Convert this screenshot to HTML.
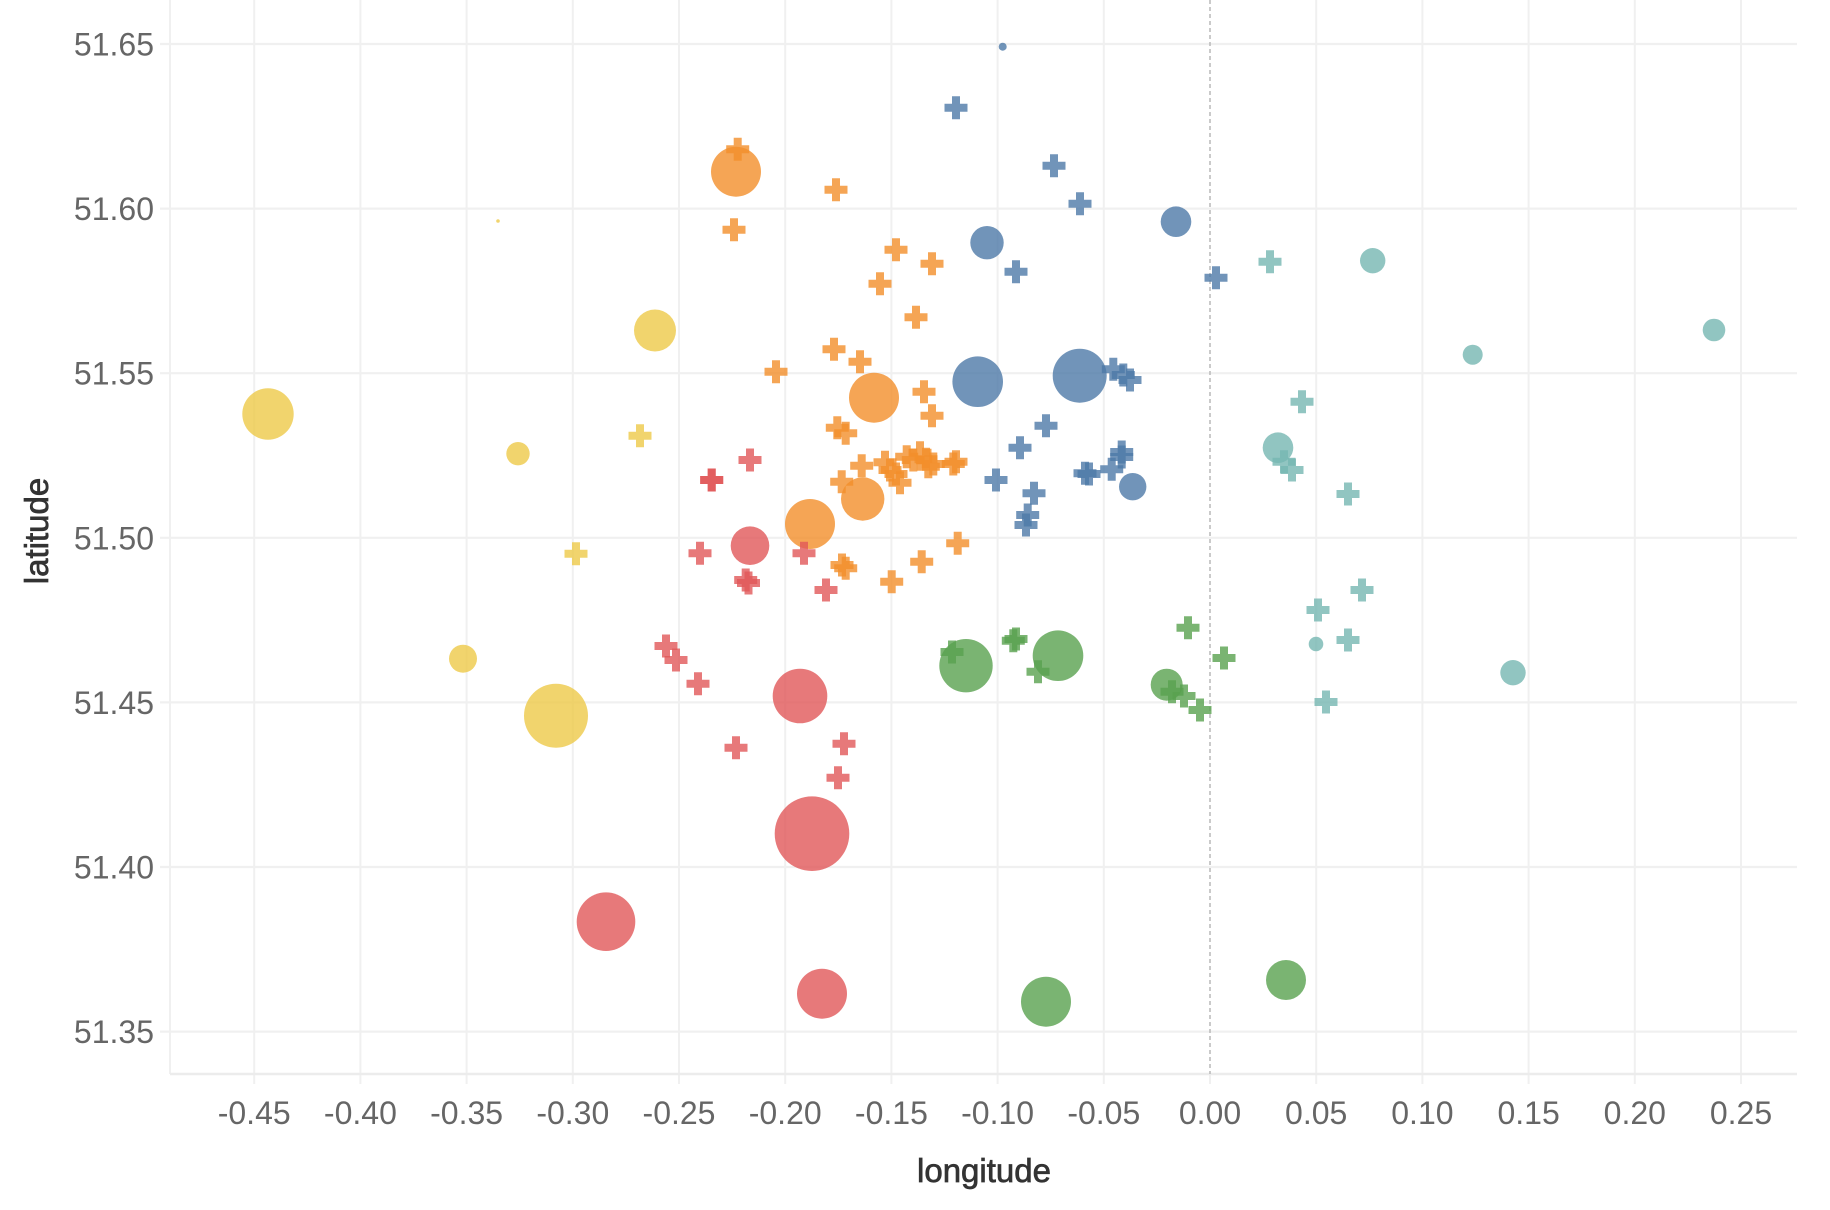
<!DOCTYPE html>
<html><head><meta charset="utf-8"><style>
html,body{margin:0;padding:0;background:#fff;}
svg{display:block;font-family:"Liberation Sans",sans-serif;}
</style></head><body>
<svg width="1830" height="1210" viewBox="0 0 1830 1210" xmlns="http://www.w3.org/2000/svg">
<rect width="1830" height="1210" fill="#fff"/>
<!-- vertical gridlines -->
<g stroke="#f0f0f0" stroke-width="2">
<line x1="170" y1="0" x2="170" y2="1074"/>
<line x1="254.2" y1="0" x2="254.2" y2="1084"/>
<line x1="360.4" y1="0" x2="360.4" y2="1084"/>
<line x1="466.6" y1="0" x2="466.6" y2="1084"/>
<line x1="572.8" y1="0" x2="572.8" y2="1084"/>
<line x1="679" y1="0" x2="679" y2="1084"/>
<line x1="785.2" y1="0" x2="785.2" y2="1084"/>
<line x1="891.4" y1="0" x2="891.4" y2="1084"/>
<line x1="997.6" y1="0" x2="997.6" y2="1084"/>
<line x1="1103.8" y1="0" x2="1103.8" y2="1084"/>
<line x1="1210" y1="1074" x2="1210" y2="1084"/>
<line x1="1316.2" y1="0" x2="1316.2" y2="1084"/>
<line x1="1422.4" y1="0" x2="1422.4" y2="1084"/>
<line x1="1528.6" y1="0" x2="1528.6" y2="1084"/>
<line x1="1634.8" y1="0" x2="1634.8" y2="1084"/>
<line x1="1741" y1="0" x2="1741" y2="1084"/>
</g>
<!-- horizontal gridlines -->
<g stroke="#f0f0f0" stroke-width="2.2">
<line x1="160" y1="44" x2="1797" y2="44"/>
<line x1="160" y1="208.6" x2="1797" y2="208.6"/>
<line x1="160" y1="373.2" x2="1797" y2="373.2"/>
<line x1="160" y1="537.8" x2="1797" y2="537.8"/>
<line x1="160" y1="702.4" x2="1797" y2="702.4"/>
<line x1="160" y1="867" x2="1797" y2="867"/>
<line x1="160" y1="1031.6" x2="1797" y2="1031.6"/>
<line x1="170" y1="1074" x2="1797" y2="1074" stroke="#ececec" stroke-width="2.6"/>
</g>
<line x1="1210" y1="0" x2="1210" y2="1074" stroke="#bdbdbd" stroke-width="1.6" stroke-dasharray="4 3"/>

<!-- Yellow -->
<g fill="#edc948" fill-opacity="0.8">
<circle cx="268" cy="414" r="25.7"/>
<circle cx="655" cy="330.5" r="21"/>
<circle cx="518" cy="453.7" r="11.7"/>
<circle cx="463" cy="658.7" r="14"/>
<circle cx="556" cy="715.7" r="32"/>
<circle cx="498" cy="221" r="1.8"/>
<path transform="translate(640 435.7)" d="M-4-11.5h8v7.5h7.5v8h-7.5v7.5h-8v-7.5h-7.5v-8h7.5z"/>
<path transform="translate(576 553.7)" d="M-4-11.5h8v7.5h7.5v8h-7.5v7.5h-8v-7.5h-7.5v-8h7.5z"/>
</g>

<!-- Orange -->
<g fill="#f28e2b" fill-opacity="0.8">
<circle cx="736" cy="171.7" r="25"/>
<circle cx="874" cy="397.7" r="25"/>
<circle cx="862.7" cy="499" r="21.7"/>
<circle cx="810" cy="524" r="25"/>
<path transform="translate(737.7 149.3)" d="M-4-11.5h8v7.5h7.5v8h-7.5v7.5h-8v-7.5h-7.5v-8h7.5z"/>
<path transform="translate(836 189.7)" d="M-4-11.5h8v7.5h7.5v8h-7.5v7.5h-8v-7.5h-7.5v-8h7.5z"/>
<path transform="translate(734 229.7)" d="M-4-11.5h8v7.5h7.5v8h-7.5v7.5h-8v-7.5h-7.5v-8h7.5z"/>
<path transform="translate(896 249.7)" d="M-4-11.5h8v7.5h7.5v8h-7.5v7.5h-8v-7.5h-7.5v-8h7.5z"/>
<path transform="translate(932 263.7)" d="M-4-11.5h8v7.5h7.5v8h-7.5v7.5h-8v-7.5h-7.5v-8h7.5z"/>
<path transform="translate(880 283.7)" d="M-4-11.5h8v7.5h7.5v8h-7.5v7.5h-8v-7.5h-7.5v-8h7.5z"/>
<path transform="translate(916 317.3)" d="M-4-11.5h8v7.5h7.5v8h-7.5v7.5h-8v-7.5h-7.5v-8h7.5z"/>
<path transform="translate(834 349.3)" d="M-4-11.5h8v7.5h7.5v8h-7.5v7.5h-8v-7.5h-7.5v-8h7.5z"/>
<path transform="translate(860 361.7)" d="M-4-11.5h8v7.5h7.5v8h-7.5v7.5h-8v-7.5h-7.5v-8h7.5z"/>
<path transform="translate(776 371.7)" d="M-4-11.5h8v7.5h7.5v8h-7.5v7.5h-8v-7.5h-7.5v-8h7.5z"/>
<path transform="translate(924 391.7)" d="M-4-11.5h8v7.5h7.5v8h-7.5v7.5h-8v-7.5h-7.5v-8h7.5z"/>
<path transform="translate(932 415.7)" d="M-4-11.5h8v7.5h7.5v8h-7.5v7.5h-8v-7.5h-7.5v-8h7.5z"/>
<path transform="translate(837.3 427.7)" d="M-4-11.5h8v7.5h7.5v8h-7.5v7.5h-8v-7.5h-7.5v-8h7.5z"/>
<path transform="translate(845.7 433.3)" d="M-4-11.5h8v7.5h7.5v8h-7.5v7.5h-8v-7.5h-7.5v-8h7.5z"/>
<path transform="translate(861.7 465.7)" d="M-4-11.5h8v7.5h7.5v8h-7.5v7.5h-8v-7.5h-7.5v-8h7.5z"/>
<path transform="translate(841.7 481.7)" d="M-4-11.5h8v7.5h7.5v8h-7.5v7.5h-8v-7.5h-7.5v-8h7.5z"/>
<path transform="translate(885 462.3)" d="M-4-11.5h8v7.5h7.5v8h-7.5v7.5h-8v-7.5h-7.5v-8h7.5z"/>
<path transform="translate(890 470)" d="M-4-11.5h8v7.5h7.5v8h-7.5v7.5h-8v-7.5h-7.5v-8h7.5z"/>
<path transform="translate(896 474)" d="M-4-11.5h8v7.5h7.5v8h-7.5v7.5h-8v-7.5h-7.5v-8h7.5z"/>
<path transform="translate(900 482.7)" d="M-4-11.5h8v7.5h7.5v8h-7.5v7.5h-8v-7.5h-7.5v-8h7.5z"/>
<path transform="translate(906.7 456.7)" d="M-4-11.5h8v7.5h7.5v8h-7.5v7.5h-8v-7.5h-7.5v-8h7.5z"/>
<path transform="translate(913.3 460)" d="M-4-11.5h8v7.5h7.5v8h-7.5v7.5h-8v-7.5h-7.5v-8h7.5z"/>
<path transform="translate(920 452.7)" d="M-4-11.5h8v7.5h7.5v8h-7.5v7.5h-8v-7.5h-7.5v-8h7.5z"/>
<path transform="translate(926 459.3)" d="M-4-11.5h8v7.5h7.5v8h-7.5v7.5h-8v-7.5h-7.5v-8h7.5z"/>
<path transform="translate(928.3 466.7)" d="M-4-11.5h8v7.5h7.5v8h-7.5v7.5h-8v-7.5h-7.5v-8h7.5z"/>
<path transform="translate(933.3 464)" d="M-4-11.5h8v7.5h7.5v8h-7.5v7.5h-8v-7.5h-7.5v-8h7.5z"/>
<path transform="translate(953.3 464)" d="M-4-11.5h8v7.5h7.5v8h-7.5v7.5h-8v-7.5h-7.5v-8h7.5z"/>
<path transform="translate(956 461.7)" d="M-4-11.5h8v7.5h7.5v8h-7.5v7.5h-8v-7.5h-7.5v-8h7.5z"/>
<path transform="translate(845.7 568.3)" d="M-4-11.5h8v7.5h7.5v8h-7.5v7.5h-8v-7.5h-7.5v-8h7.5z"/>
<path transform="translate(842 565)" d="M-4-11.5h8v7.5h7.5v8h-7.5v7.5h-8v-7.5h-7.5v-8h7.5z"/>
<path transform="translate(921.7 561.7)" d="M-4-11.5h8v7.5h7.5v8h-7.5v7.5h-8v-7.5h-7.5v-8h7.5z"/>
<path transform="translate(957.7 543.3)" d="M-4-11.5h8v7.5h7.5v8h-7.5v7.5h-8v-7.5h-7.5v-8h7.5z"/>
<path transform="translate(891.7 581.7)" d="M-4-11.5h8v7.5h7.5v8h-7.5v7.5h-8v-7.5h-7.5v-8h7.5z"/>
</g>

<!-- Red -->
<g fill="#e15759" fill-opacity="0.8">
<circle cx="750" cy="545.7" r="19.3"/>
<circle cx="800" cy="696" r="27.3"/>
<circle cx="812" cy="833.7" r="37.3"/>
<circle cx="606" cy="921.7" r="29.3"/>
<circle cx="822" cy="993.7" r="25"/>
<path transform="translate(711.7 480)" d="M-4-11.5h8v7.5h7.5v8h-7.5v7.5h-8v-7.5h-7.5v-8h7.5z"/>
<path transform="translate(711.7 480)" d="M-4-11.5h8v7.5h7.5v8h-7.5v7.5h-8v-7.5h-7.5v-8h7.5z"/>
<path transform="translate(750 460)" d="M-4-11.5h8v7.5h7.5v8h-7.5v7.5h-8v-7.5h-7.5v-8h7.5z"/>
<path transform="translate(700 553.3)" d="M-4-11.5h8v7.5h7.5v8h-7.5v7.5h-8v-7.5h-7.5v-8h7.5z"/>
<path transform="translate(804 553.3)" d="M-4-11.5h8v7.5h7.5v8h-7.5v7.5h-8v-7.5h-7.5v-8h7.5z"/>
<path transform="translate(745.7 580)" d="M-4-11.5h8v7.5h7.5v8h-7.5v7.5h-8v-7.5h-7.5v-8h7.5z"/>
<path transform="translate(748.5 583)" d="M-4-11.5h8v7.5h7.5v8h-7.5v7.5h-8v-7.5h-7.5v-8h7.5z"/>
<path transform="translate(826 590)" d="M-4-11.5h8v7.5h7.5v8h-7.5v7.5h-8v-7.5h-7.5v-8h7.5z"/>
<path transform="translate(666 646)" d="M-4-11.5h8v7.5h7.5v8h-7.5v7.5h-8v-7.5h-7.5v-8h7.5z"/>
<path transform="translate(676 660)" d="M-4-11.5h8v7.5h7.5v8h-7.5v7.5h-8v-7.5h-7.5v-8h7.5z"/>
<path transform="translate(698 683.7)" d="M-4-11.5h8v7.5h7.5v8h-7.5v7.5h-8v-7.5h-7.5v-8h7.5z"/>
<path transform="translate(736 747.7)" d="M-4-11.5h8v7.5h7.5v8h-7.5v7.5h-8v-7.5h-7.5v-8h7.5z"/>
<path transform="translate(844 743.7)" d="M-4-11.5h8v7.5h7.5v8h-7.5v7.5h-8v-7.5h-7.5v-8h7.5z"/>
<path transform="translate(838 777.7)" d="M-4-11.5h8v7.5h7.5v8h-7.5v7.5h-8v-7.5h-7.5v-8h7.5z"/>
</g>

<!-- Blue -->
<g fill="#4e79a7" fill-opacity="0.8">
<circle cx="1002.7" cy="46.7" r="4"/>
<circle cx="987" cy="242.7" r="16.7"/>
<circle cx="1176" cy="221.7" r="15.3"/>
<circle cx="977.7" cy="381.7" r="25.3"/>
<circle cx="1079.7" cy="375.7" r="27"/>
<circle cx="1132.7" cy="486.7" r="13.7"/>
<path transform="translate(956 107.7)" d="M-4-11.5h8v7.5h7.5v8h-7.5v7.5h-8v-7.5h-7.5v-8h7.5z"/>
<path transform="translate(1054 165.7)" d="M-4-11.5h8v7.5h7.5v8h-7.5v7.5h-8v-7.5h-7.5v-8h7.5z"/>
<path transform="translate(1080 203.7)" d="M-4-11.5h8v7.5h7.5v8h-7.5v7.5h-8v-7.5h-7.5v-8h7.5z"/>
<path transform="translate(1016 271.7)" d="M-4-11.5h8v7.5h7.5v8h-7.5v7.5h-8v-7.5h-7.5v-8h7.5z"/>
<path transform="translate(1216 277.7)" d="M-4-11.5h8v7.5h7.5v8h-7.5v7.5h-8v-7.5h-7.5v-8h7.5z"/>
<path transform="translate(1113.3 369.3)" d="M-4-11.5h8v7.5h7.5v8h-7.5v7.5h-8v-7.5h-7.5v-8h7.5z"/>
<path transform="translate(1123.3 375)" d="M-4-11.5h8v7.5h7.5v8h-7.5v7.5h-8v-7.5h-7.5v-8h7.5z"/>
<path transform="translate(1130 380)" d="M-4-11.5h8v7.5h7.5v8h-7.5v7.5h-8v-7.5h-7.5v-8h7.5z"/>
<path transform="translate(1046 425.7)" d="M-4-11.5h8v7.5h7.5v8h-7.5v7.5h-8v-7.5h-7.5v-8h7.5z"/>
<path transform="translate(1020 447.7)" d="M-4-11.5h8v7.5h7.5v8h-7.5v7.5h-8v-7.5h-7.5v-8h7.5z"/>
<path transform="translate(1121.7 452)" d="M-4-11.5h8v7.5h7.5v8h-7.5v7.5h-8v-7.5h-7.5v-8h7.5z"/>
<path transform="translate(1121.7 457)" d="M-4-11.5h8v7.5h7.5v8h-7.5v7.5h-8v-7.5h-7.5v-8h7.5z"/>
<path transform="translate(1111.7 469.3)" d="M-4-11.5h8v7.5h7.5v8h-7.5v7.5h-8v-7.5h-7.5v-8h7.5z"/>
<path transform="translate(1085 473.3)" d="M-4-11.5h8v7.5h7.5v8h-7.5v7.5h-8v-7.5h-7.5v-8h7.5z"/>
<path transform="translate(1089 474)" d="M-4-11.5h8v7.5h7.5v8h-7.5v7.5h-8v-7.5h-7.5v-8h7.5z"/>
<path transform="translate(996 480)" d="M-4-11.5h8v7.5h7.5v8h-7.5v7.5h-8v-7.5h-7.5v-8h7.5z"/>
<path transform="translate(1034 493.3)" d="M-4-11.5h8v7.5h7.5v8h-7.5v7.5h-8v-7.5h-7.5v-8h7.5z"/>
<path transform="translate(1027.7 515)" d="M-4-11.5h8v7.5h7.5v8h-7.5v7.5h-8v-7.5h-7.5v-8h7.5z"/>
<path transform="translate(1026 525)" d="M-4-11.5h8v7.5h7.5v8h-7.5v7.5h-8v-7.5h-7.5v-8h7.5z"/>
</g>

<!-- Teal -->
<g fill="#76b7b2" fill-opacity="0.8">
<circle cx="1372.7" cy="260.7" r="12.7"/>
<circle cx="1472.7" cy="354.7" r="10"/>
<circle cx="1714" cy="330" r="11.3"/>
<circle cx="1278" cy="447.7" r="15.3"/>
<circle cx="1316" cy="644" r="7.3"/>
<circle cx="1513" cy="672.7" r="12.7"/>
<path transform="translate(1270 261.7)" d="M-4-11.5h8v7.5h7.5v8h-7.5v7.5h-8v-7.5h-7.5v-8h7.5z"/>
<path transform="translate(1302 401.7)" d="M-4-11.5h8v7.5h7.5v8h-7.5v7.5h-8v-7.5h-7.5v-8h7.5z"/>
<path transform="translate(1284 461.7)" d="M-4-11.5h8v7.5h7.5v8h-7.5v7.5h-8v-7.5h-7.5v-8h7.5z"/>
<path transform="translate(1292 470)" d="M-4-11.5h8v7.5h7.5v8h-7.5v7.5h-8v-7.5h-7.5v-8h7.5z"/>
<path transform="translate(1348 494)" d="M-4-11.5h8v7.5h7.5v8h-7.5v7.5h-8v-7.5h-7.5v-8h7.5z"/>
<path transform="translate(1362 590)" d="M-4-11.5h8v7.5h7.5v8h-7.5v7.5h-8v-7.5h-7.5v-8h7.5z"/>
<path transform="translate(1318 610)" d="M-4-11.5h8v7.5h7.5v8h-7.5v7.5h-8v-7.5h-7.5v-8h7.5z"/>
<path transform="translate(1348 640)" d="M-4-11.5h8v7.5h7.5v8h-7.5v7.5h-8v-7.5h-7.5v-8h7.5z"/>
<path transform="translate(1326 702)" d="M-4-11.5h8v7.5h7.5v8h-7.5v7.5h-8v-7.5h-7.5v-8h7.5z"/>
</g>

<!-- Green -->
<g fill="#59a14f" fill-opacity="0.8">
<circle cx="966" cy="665.7" r="26.7"/>
<circle cx="1058" cy="655.7" r="25.3"/>
<circle cx="1166.7" cy="684.7" r="16"/>
<circle cx="1046" cy="1001.7" r="25"/>
<circle cx="1286" cy="980" r="20"/>
<path transform="translate(952 652)" d="M-4-11.5h8v7.5h7.5v8h-7.5v7.5h-8v-7.5h-7.5v-8h7.5z"/>
<path transform="translate(1013.3 640.7)" d="M-4-11.5h8v7.5h7.5v8h-7.5v7.5h-8v-7.5h-7.5v-8h7.5z"/>
<path transform="translate(1016 639)" d="M-4-11.5h8v7.5h7.5v8h-7.5v7.5h-8v-7.5h-7.5v-8h7.5z"/>
<path transform="translate(1038 671.7)" d="M-4-11.5h8v7.5h7.5v8h-7.5v7.5h-8v-7.5h-7.5v-8h7.5z"/>
<path transform="translate(1188 627.7)" d="M-4-11.5h8v7.5h7.5v8h-7.5v7.5h-8v-7.5h-7.5v-8h7.5z"/>
<path transform="translate(1224 658)" d="M-4-11.5h8v7.5h7.5v8h-7.5v7.5h-8v-7.5h-7.5v-8h7.5z"/>
<path transform="translate(1172 691.7)" d="M-4-11.5h8v7.5h7.5v8h-7.5v7.5h-8v-7.5h-7.5v-8h7.5z"/>
<path transform="translate(1184 696)" d="M-4-11.5h8v7.5h7.5v8h-7.5v7.5h-8v-7.5h-7.5v-8h7.5z"/>
<path transform="translate(1200 710)" d="M-4-11.5h8v7.5h7.5v8h-7.5v7.5h-8v-7.5h-7.5v-8h7.5z"/>
</g>

<!-- Y tick labels -->
<g fill="#666" font-size="32" text-anchor="end">
<text x="154" y="55.5">51.65</text>
<text x="154" y="220">51.60</text>
<text x="154" y="384.7">51.55</text>
<text x="154" y="549.3">51.50</text>
<text x="154" y="713.9">51.45</text>
<text x="154" y="878.5">51.40</text>
<text x="154" y="1043">51.35</text>
</g>
<!-- X tick labels -->
<g fill="#666" font-size="32" text-anchor="middle">
<text x="254.2" y="1124">-0.45</text>
<text x="360.4" y="1124">-0.40</text>
<text x="466.6" y="1124">-0.35</text>
<text x="572.8" y="1124">-0.30</text>
<text x="679" y="1124">-0.25</text>
<text x="785.2" y="1124">-0.20</text>
<text x="891.4" y="1124">-0.15</text>
<text x="997.6" y="1124">-0.10</text>
<text x="1103.8" y="1124">-0.05</text>
<text x="1210" y="1124">0.00</text>
<text x="1316.2" y="1124">0.05</text>
<text x="1422.4" y="1124">0.10</text>
<text x="1528.6" y="1124">0.15</text>
<text x="1634.8" y="1124">0.20</text>
<text x="1741" y="1124">0.25</text>
</g>
<text x="984" y="1182" fill="#333" stroke="#333" stroke-width="0.7" font-size="33" text-anchor="middle">longitude</text>
<text transform="translate(48 531) rotate(-90)" fill="#333" stroke="#333" stroke-width="0.7" font-size="33" text-anchor="middle">latitude</text>
</svg>
</body></html>
